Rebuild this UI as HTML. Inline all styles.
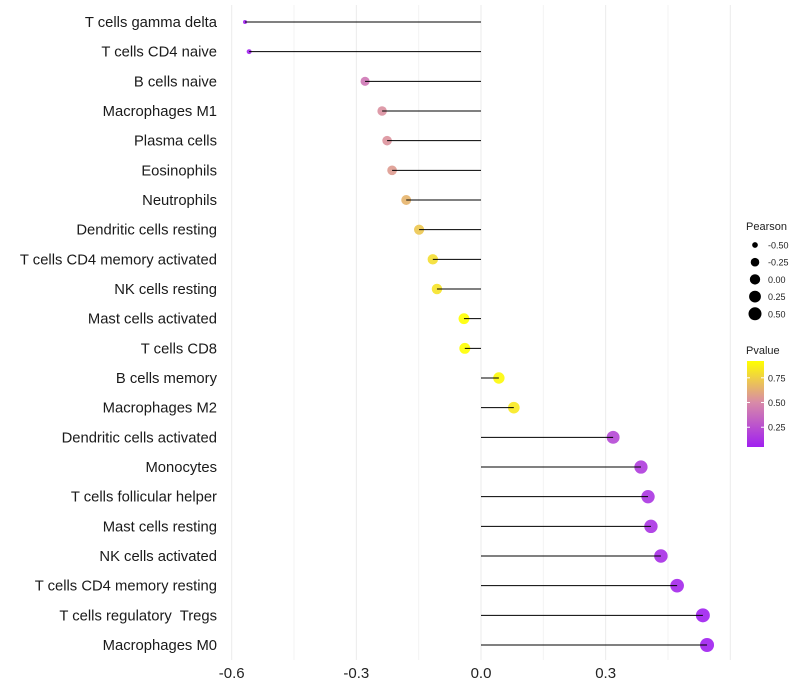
<!DOCTYPE html>
<html><head><meta charset="utf-8"><style>
body{margin:0;background:#fff;font-family:"Liberation Sans",sans-serif}
svg{display:block}
text{white-space:pre}
</style></head><body>
<svg id="chart" width="800" height="700" xmlns="http://www.w3.org/2000/svg"></svg>
<script>
const categories=["T cells gamma delta","T cells CD4 naive","B cells naive","Macrophages M1","Plasma cells","Eosinophils","Neutrophils","Dendritic cells resting","T cells CD4 memory activated","NK cells resting","Mast cells activated","T cells CD8","B cells memory","Macrophages M2","Dendritic cells activated","Monocytes","T cells follicular helper","Mast cells resting","NK cells activated","T cells CD4 memory resting","T cells regulatory  Tregs","Macrophages M0"];
const pearson=[-0.568,-0.558,-0.279,-0.238,-0.226,-0.214,-0.180,-0.149,-0.116,-0.106,-0.041,-0.039,0.043,0.079,0.318,0.385,0.402,0.409,0.433,0.472,0.534,0.544];
const pvalue=[0.05,0.06,0.42,0.52,0.53,0.56,0.65,0.72,0.80,0.82,0.93,0.92,0.90,0.84,0.22,0.17,0.14,0.13,0.11,0.08,0.05,0.05];
const xTicks=[-0.6,-0.3,0.0,0.3];
const xTickLabels=["-0.6","-0.3","0.0","0.3"];
const sizeLegend=[-0.5,-0.25,0,0.25,0.5];
const sizeLegendLabels=["-0.50","-0.25","0.00","0.25","0.50"];
const pLegend=[0.75,0.5,0.25];
const pLegendLabels=["0.75","0.50","0.25"];

const NS="http://www.w3.org/2000/svg";
const svg=document.getElementById('chart');
const X0=481, XS=415.5;
const x=v=>X0+v*XS;
const y=i=>22+i*29.667;
const r=v=>2+5*Math.sqrt(Math.max(0,(v+0.568)/1.112));
function lerp(a,b,t){return a.map((c,i)=>Math.round(c+(b[i]-c)*t));}
function color(p){
  const lo=0.05,mid=0.5,hi=0.92;
  const P=[160,32,240],M=[216,138,168],Y=[255,255,0];
  let c;
  if(p<=mid){c=lerp(P,M,Math.max(0,(p-lo)/(mid-lo)));}
  else c=lerp(M,Y,Math.min(1,(p-mid)/(hi-mid)));
  return `rgb(${c[0]},${c[1]},${c[2]})`;
}
function el(tag,attrs,parent){const e=document.createElementNS(NS,tag);for(const k in attrs)e.setAttribute(k,attrs[k]);(parent||svg).appendChild(e);return e;}

for(let k=-4;k<=4;k++){
  const v=k*0.15;
  const g=el('line',{x1:x(v),x2:x(v),y1:5,y2:660,stroke:k%2===0?'#ebebeb':'#f3f3f3','stroke-width':1});
  
  
}
xTicks.forEach((v,i)=>{
  const t=el('text',{x:x(v),y:678,'text-anchor':'middle','font-size':15,fill:'#222'});
  t.textContent=xTickLabels[i];
  
  
});
categories.forEach((c,i)=>{
  const t=el('text',{x:217,y:y(i)+5,'text-anchor':'end','font-size':14.8,fill:'#1a1a1a'});
  t.textContent=c;
  
  
  const p=el('circle',{cx:x(pearson[i]),cy:y(i),r:r(pearson[i]),fill:color(pvalue[i]),'fill-opacity':0.9});
  
  
  const l=el('line',{x1:x(0),x2:x(pearson[i]),y1:y(i),y2:y(i),stroke:'#000','stroke-width':1});
  
  
});
const st=el('text',{x:746,y:230,'font-size':11,fill:'#222'});st.textContent='Pearson';


sizeLegend.forEach((v,i)=>{
  const yy=245+i*17.2;
  const c=el('circle',{cx:755,cy:yy,r:r(v)-0.4,fill:'#000'});
  
  
  const t=el('text',{x:768,y:yy+3.5,'font-size':9,fill:'#222'});t.textContent=sizeLegendLabels[i];
  
  
});
const pt=el('text',{x:746,y:354,'font-size':11,fill:'#222'});pt.textContent='Pvalue';


const defs=el('defs',{});
const grad=el('linearGradient',{id:'pg',x1:0,y1:1,x2:0,y2:0},defs);
[0.05,0.2,0.35,0.5,0.65,0.8,0.92].forEach(p=>{
  el('stop',{offset:(p-0.05)/0.87,'stop-color':color(p)},grad);
});
const bar=el('rect',{x:747,y:361,width:17,height:86,fill:'url(#pg)'});


pLegend.forEach((p,i)=>{
  const yy=447-(p-0.05)/0.87*86;
  el('line',{x1:747,x2:750,y1:yy,y2:yy,stroke:'#fff'});
  el('line',{x1:761,x2:764,y1:yy,y2:yy,stroke:'#fff'});
  const t=el('text',{x:768,y:yy+3.5,'font-size':9,fill:'#222'});t.textContent=pLegendLabels[i];
  
  
});
</script>
</body></html>
